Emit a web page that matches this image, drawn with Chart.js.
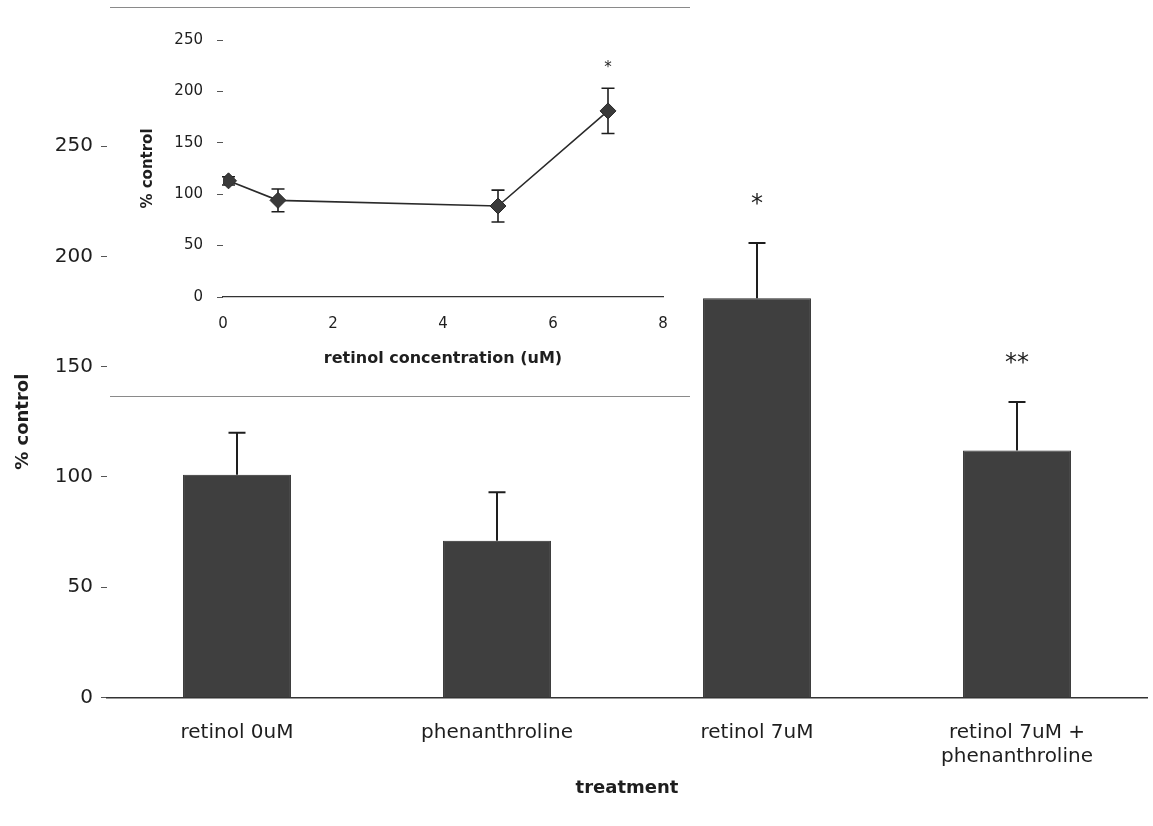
<!DOCTYPE html>
<html>
<head>
<meta charset="utf-8">
<title>% control by treatment</title>
<script src="https://cdn.jsdelivr.net/npm/chart.js@4.4.1/dist/chart.umd.min.js"></script>
<style>
  html, body { margin: 0; padding: 0; background: #fff; }
  #wrap { position: relative; width: 1153px; height: 826px; overflow: hidden; }
  #main { position: absolute; left: 0; top: 0; }
  #inset { position: absolute; left: 110px; top: 8px; background: #fff; }
  .inset-rule { position: absolute; left: 110px; width: 580px; height: 1px; background: #8a8a8a; }
</style>
</head>
<body>
<div id="wrap">
  <canvas id="main" width="1153" height="826"></canvas>
  <canvas id="inset" width="580" height="388"></canvas>
  <div class="inset-rule" style="top:7px"></div>
  <div class="inset-rule" style="top:396px"></div>
</div>
<script>
// Barras principales
const treatments = ['retinol 0uM', 'phenanthroline', 'retinol 7uM', ['retinol 7uM +', 'phenanthroline']];
const meanPct = [101, 71, 181, 112];
const errPct = [19, 22, 25, 22];
const barMarks = ['', '', '*', '**'];
const mainTicks = [0, 50, 100, 150, 200, 250];

// Gráfico insertado (curva dosis-respuesta)
const retinolUM = [0.1, 1, 5, 7];
const insetPct = [113, 94, 88.5, 181];
const insetErr = [4, 11, 15.5, 22];
const insetMarks = ['', '', '', '*'];
const insetYTicks = [0, 50, 100, 150, 200, 250];
const insetXTicks = [0, 2, 4, 6, 8];

const FONT = "'DejaVu Sans', 'Liberation Sans', Arial, sans-serif";
const INK = '#1e1e1e';

Chart.defaults.animation = false;
Chart.defaults.color = INK;
Chart.defaults.font.family = FONT;

// Barras de error + asteriscos
const errorBars = {
  id: 'errorBars',
  beforeDatasetsDraw(chart, args, opts) {
    if (opts.under) draw(chart, opts);
  },
  afterDatasetsDraw(chart, args, opts) {
    if (!opts.under) draw(chart, opts);
  }
};

function draw(chart, opts) {
  const { ctx } = chart;
  const yScale = chart.scales.y;
  const meta = chart.getDatasetMeta(0);
  ctx.save();
  ctx.strokeStyle = INK;
  ctx.lineWidth = opts.lineWidth;
  meta.data.forEach((el, i) => {
    const v = opts.values[i];
    const e = opts.errors[i];
    const x = el.x;
    const top = yScale.getPixelForValue(v + e);
    const bottom = yScale.getPixelForValue(opts.both ? v - e : v);
    const hw = opts.cap / 2;
    ctx.beginPath();
    ctx.moveTo(x, bottom);
    ctx.lineTo(x, top);
    ctx.moveTo(x - hw, top);
    ctx.lineTo(x + hw, top);
    if (opts.both) {
      ctx.moveTo(x - hw, bottom);
      ctx.lineTo(x + hw, bottom);
    }
    ctx.stroke();

    const mark = opts.marks[i];
    if (mark) {
      ctx.fillStyle = INK;
      ctx.font = opts.markFont;
      ctx.textAlign = 'center';
      ctx.textBaseline = 'alphabetic';
      ctx.fillText(mark, x, top - opts.markGap);
    }
  });
  ctx.restore();
}

new Chart(document.getElementById('main'), {
  type: 'bar',
  data: {
    labels: treatments,
    datasets: [{
      data: meanPct,
      backgroundColor: '#3f3f3f',
      borderColor: '#2a2a2a',
      borderWidth: 1,
      categoryPercentage: 1,
      barPercentage: 0.415
    }]
  },
  options: {
    responsive: false,
    layout: { padding: { top: 146, right: 6, left: 0, bottom: 0 } },
    plugins: {
      legend: { display: false },
      tooltip: { enabled: false },
      errorBars: {
        values: meanPct, errors: errPct, marks: barMarks,
        both: false, cap: 17, lineWidth: 2,
        markFont: '24px ' + FONT, markGap: 32
      }
    },
    scales: {
      x: {
        afterFit: (s) => { s.height = 128.5; },
        grid: { display: false, drawTicks: false },
        border: { display: true, color: '#333', width: 1.5 },
        ticks: { font: { size: 20 }, padding: 23.5, color: INK, maxRotation: 0 },
        title: {
          display: true, text: 'treatment', color: INK,
          font: { size: 18, weight: 'bold' }, padding: { top: 0, bottom: 27 }
        }
      },
      y: {
        min: 0, max: 250,
        afterFit: (s) => { s.width = 107; },
        afterBuildTicks: (s) => { s.ticks = mainTicks.map(v => ({ value: v })); },
        grid: { display: true, drawOnChartArea: false, drawTicks: true, tickLength: 6, color: '#555' },
        border: { display: false },
        ticks: { font: { size: 20 }, padding: 8, color: INK },
        title: {
          display: true, text: '% control', color: INK,
          font: { size: 18, weight: 'bold' }, padding: { top: 13, bottom: 0 }
        }
      }
    }
  },
  plugins: [errorBars]
});

new Chart(document.getElementById('inset'), {
  type: 'scatter',
  data: {
    datasets: [{
      data: retinolUM.map((x, i) => ({ x, y: insetPct[i] })),
      showLine: true,
      borderColor: '#2a2a2a',
      borderWidth: 1.6,
      pointStyle: 'rectRot',
      pointRadius: 8,
      pointBackgroundColor: '#3a3a3a',
      pointBorderColor: '#2a2a2a',
      pointBorderWidth: 1
    }]
  },
  options: {
    responsive: false,
    layout: { padding: { top: 32, right: 27, left: 0, bottom: 0 } },
    plugins: {
      legend: { display: false },
      tooltip: { enabled: false },
      errorBars: {
        values: insetPct, errors: insetErr, marks: insetMarks,
        both: true, cap: 13, lineWidth: 1.6, under: true,
        markFont: '15px ' + FONT, markGap: 16
      }
    },
    scales: {
      x: {
        type: 'linear', min: 0, max: 8,
        afterFit: (s) => { s.height = 99; },
        afterBuildTicks: (s) => { s.ticks = insetXTicks.map(v => ({ value: v })); },
        grid: { display: false, drawTicks: false },
        border: { display: true, color: '#333', width: 1.3 },
        ticks: { font: { size: 15 }, padding: 18, color: INK },
        title: {
          display: true, text: 'retinol concentration (uM)', color: INK,
          font: { size: 16, weight: 'bold' }, padding: { top: 0, bottom: 28 }
        }
      },
      y: {
        min: 0, max: 250,
        afterFit: (s) => { s.width = 113; },
        afterBuildTicks: (s) => { s.ticks = insetYTicks.map(v => ({ value: v })); },
        grid: { display: true, drawOnChartArea: false, drawTicks: true, tickLength: 6, color: '#555' },
        border: { display: false },
        ticks: { font: { size: 15 }, padding: 14, color: INK },
        title: {
          display: true, text: '% control', color: INK,
          font: { size: 15, weight: 'bold' }, padding: { top: 29, bottom: 0 }
        }
      }
    }
  },
  plugins: [errorBars]
});
</script>
</body>
</html>
